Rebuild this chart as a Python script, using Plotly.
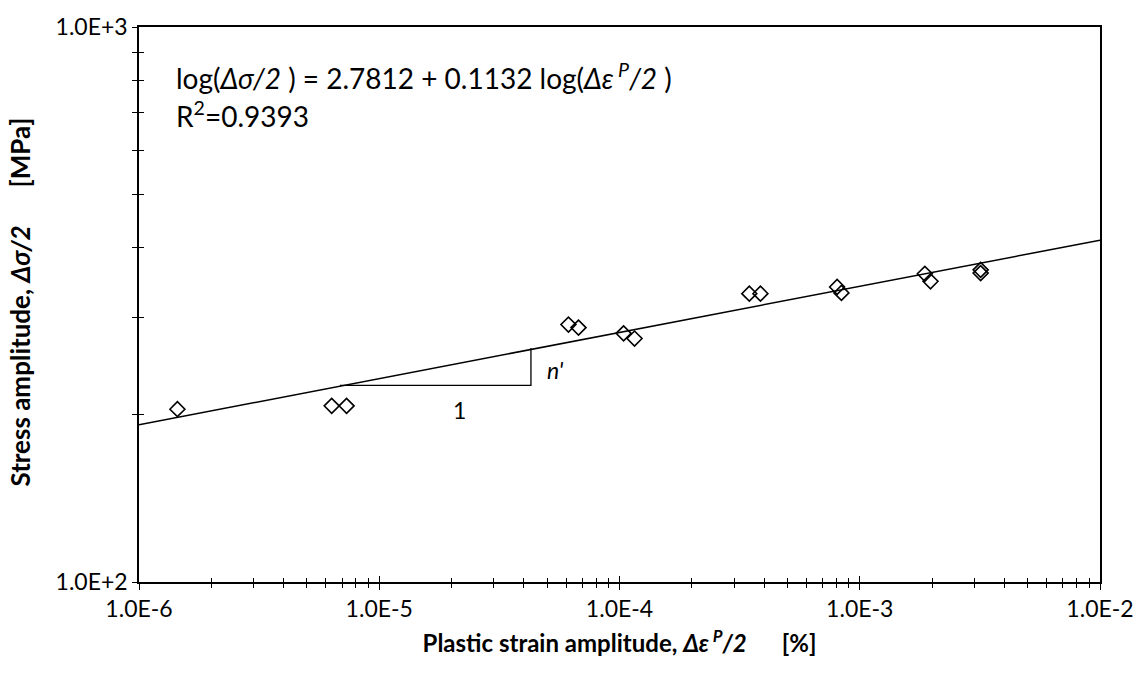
import plotly.graph_objects as go

# Plastic strain amplitude [%] and stress amplitude [MPa]
strain_amp = [1.445e-6, 6.34e-6, 7.31e-6, 6.13e-5, 6.75e-5, 1.04e-4, 1.155e-4,
              3.47e-4, 3.86e-4, 8.05e-4, 8.39e-4, 1.866e-3, 1.97e-3, 3.185e-3, 3.185e-3]
stress_amp = [204.8, 207.7, 207.7, 291.0, 287.3, 280.6, 274.6,
              330.8, 330.8, 340.1, 331.8, 359.2, 348.2, 365.1, 360.2]

# Regression line end points
fit_x = [1e-6, 1e-2]
fit_y = [192.0, 413.0]

# Slope triangle vertices
tri_x = [6.86e-6, 4.28e-5, 4.28e-5]
tri_y = [226.1, 226.1, 263.9]

x_ticks = [1e-6, 1e-5, 1e-4, 1e-3, 1e-2]
x_tick_text = ["1.0E-6", "1.0E-5", "1.0E-4", "1.0E-3", "1.0E-2"]
y_ticks = [100, 1000]
y_tick_text = ["1.0E+2", "1.0E+3"]

x_minor = [m * 10.0 ** e for e in range(-6, -2) for m in range(2, 10)]
y_minor = [m * 100 for m in range(2, 10)]

FONT = "Lato, Carlito, Calibri, sans-serif"
SP = "&nbsp;"

fig = go.Figure()
fig.add_trace(go.Scatter(x=fit_x, y=fit_y, mode="lines",
                         line=dict(color="black", width=1.5), showlegend=False))
fig.add_trace(go.Scatter(x=tri_x, y=tri_y, mode="lines",
                         line=dict(color="black", width=1.3), showlegend=False))
fig.add_trace(go.Scatter(x=strain_amp, y=stress_amp, mode="markers",
                         marker=dict(symbol="diamond-open", size=11.5, color="black",
                                     line=dict(width=1.6, color="black")),
                         showlegend=False))
# invisible traces carrying the inner half of the crossing ticks
fig.add_trace(go.Scatter(x=[1e-6], y=[100], xaxis="x2", yaxis="y", mode="markers",
                         marker=dict(opacity=0), showlegend=False, hoverinfo="skip"))
fig.add_trace(go.Scatter(x=[1e-6], y=[100], xaxis="x", yaxis="y2", mode="markers",
                         marker=dict(opacity=0), showlegend=False, hoverinfo="skip"))

tick_style = dict(showgrid=False, zeroline=False, tickcolor="black", tickwidth=1.3)
line_style = dict(linecolor="black", linewidth=1.5, showline=True, mirror=True)

fig.update_layout(
    width=1146, height=683,
    margin=dict(l=139, r=46, t=22, b=101),
    paper_bgcolor="white", plot_bgcolor="white",
    font=dict(family=FONT, size=24, color="black"),
    xaxis=dict(type="log", range=[-6, -2], tickmode="array", tickvals=x_ticks,
               ticktext=x_tick_text, ticks="outside", ticklen=6,
               tickfont=dict(size=23),
               minor=dict(tickmode="array", tickvals=x_minor, ticks="outside",
                          ticklen=4, tickcolor="black", tickwidth=1.3),
               title=dict(text="<b>Plastic strain amplitude, <i>Δε</i><sup><i> P</i></sup><i>/2</i>"
                               + SP * 6 + "[%]</b>",
                          font=dict(size=24), standoff=14),
               **tick_style, **line_style),
    yaxis=dict(type="log", range=[2, 3], tickmode="array", tickvals=y_ticks,
               ticktext=y_tick_text, ticks="outside", ticklen=5,
               tickfont=dict(size=23),
               minor=dict(tickmode="array", tickvals=y_minor, ticks="outside",
                          ticklen=5, tickcolor="black", tickwidth=1.3),
               **tick_style, **line_style),
    xaxis2=dict(type="log", range=[-6, -2], overlaying="x", anchor="y", side="bottom",
                tickmode="array", tickvals=x_ticks, showticklabels=False,
                ticks="inside", ticklen=6, showline=False,
                minor=dict(tickmode="array", tickvals=x_minor, ticks="inside",
                           ticklen=4, tickcolor="black", tickwidth=1.3),
                **tick_style),
    yaxis2=dict(type="log", range=[2, 3], overlaying="y", anchor="x", side="left",
                tickmode="array", tickvals=y_ticks, showticklabels=False,
                ticks="inside", ticklen=5, showline=False,
                minor=dict(tickmode="array", tickvals=y_minor, ticks="inside",
                           ticklen=5, tickcolor="black", tickwidth=1.3),
                **tick_style),
)

# vertical axis title
fig.add_annotation(xref="paper", yref="paper", x=-0.124, y=0.505, xanchor="center",
                   yanchor="middle", textangle=-90, showarrow=False,
                   text="<b>Stress amplitude, <i>Δσ/2</i>" + SP * 6 + "[MPa]</b>",
                   font=dict(size=26))

fig.add_annotation(xref="paper", yref="paper", x=0.036, y=0.91, xanchor="left", yanchor="middle",
                   text="log(<i>Δσ/2</i> ) = 2.7812 + 0.1132 log(<i>Δε</i><sup><i> P</i></sup><i>/2</i> )",
                   showarrow=False, font=dict(size=28))
fig.add_annotation(xref="paper", yref="paper", x=0.036, y=0.842, xanchor="left", yanchor="middle",
                   text="R<sup>2</sup>=0.9393", showarrow=False, font=dict(size=28))
fig.add_annotation(x=-4.668, y=2.310, xref="x", yref="y", text="1", showarrow=False,
                   font=dict(size=23))
fig.add_annotation(x=-4.31, y=2.382, xref="x", yref="y", text="<i>n'</i>", showarrow=False,
                   xanchor="left", font=dict(size=23))

fig.write_html("out.html")
